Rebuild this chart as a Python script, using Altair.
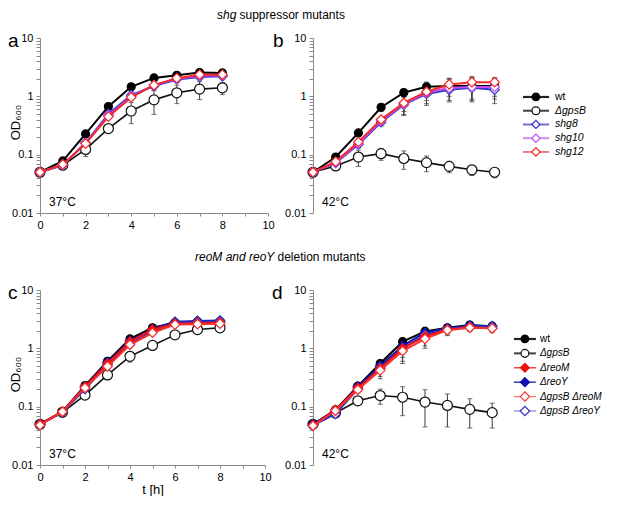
import altair as alt
import pandas as pd

FONT = "Liberation Sans"

# ---------------- data ----------------
T_H = [0, 1, 2, 3, 4, 5, 6, 7, 8]

# panel a : shg suppressors, 37 °C
A_WT = [0.05, 0.078, 0.227, 0.67, 1.46, 2.07, 2.29, 2.55, 2.52]
A_WT_SD = [0.002, 0.005, 0.02, 0.05, 0.1, 0.1, 0.12, 0.15, 0.15]
A_GPSB = [0.05, 0.066, 0.123, 0.28, 0.56, 0.87, 1.15, 1.33, 1.40]
A_GPSB_SD = [0.002, 0.006, 0.03, 0.03, 0.22, 0.38, 0.4, 0.45, 0.33]
A_SHG8 = [0.05, 0.066, 0.16, 0.50, 1.05, 1.50, 1.95, 2.15, 2.20]
A_SHG8_SD = [0.002, 0.005, 0.02, 0.08, 0.15, 0.2, 0.2, 0.2, 0.2]
A_SHG10 = [0.05, 0.067, 0.158, 0.47, 1.00, 1.55, 2.00, 2.25, 2.30]
A_SHG10_SD = [0.002, 0.005, 0.02, 0.06, 0.12, 0.15, 0.15, 0.15, 0.15]
A_SHG12 = [0.05, 0.068, 0.155, 0.45, 0.96, 1.56, 2.05, 2.35, 2.35]
A_SHG12_SD = [0.002, 0.005, 0.02, 0.05, 0.1, 0.12, 0.12, 0.12, 0.12]

# panel b : shg suppressors, 42 °C
B_WT = [0.05, 0.091, 0.236, 0.65, 1.16, 1.46, 1.5, 1.5, 1.5]
B_WT_SD = [0.002, 0.008, 0.02, 0.1, 0.17, 0.3, 0.5, 0.6, 0.5]
B_GPSB = [0.05, 0.064, 0.091, 0.104, 0.086, 0.073, 0.063, 0.055, 0.05]
B_GPSB_SD = [0.002, 0.005, 0.028, 0.024, 0.03, 0.022, 0.014, 0.011, 0.01]
B_SHG8 = [0.05, 0.072, 0.15, 0.36, 0.72, 1.1, 1.3, 1.4, 1.3]
B_SHG8_SD = [0.002, 0.006, 0.02, 0.05, 0.25, 0.4, 0.5, 0.6, 0.55]
B_SHG10 = [0.05, 0.074, 0.155, 0.38, 0.74, 1.15, 1.4, 1.45, 1.45]
B_SHG10_SD = [0.002, 0.006, 0.02, 0.05, 0.25, 0.4, 0.55, 0.6, 0.55]
B_SHG12 = [0.05, 0.076, 0.165, 0.4, 0.77, 1.2, 1.6, 1.75, 1.75]
B_SHG12_SD = [0.002, 0.006, 0.02, 0.05, 0.22, 0.35, 0.45, 0.45, 0.35]

# panel c : reoM / reoY deletions, 37 °C
C_WT = [0.05, 0.083, 0.23, 0.6, 1.45, 2.25, 2.75, 2.85, 2.85]
C_WT_SD = [0.002, 0.004, 0.015, 0.04, 0.08, 0.1, 0.1, 0.1, 0.1]
C_GPSB = [0.05, 0.08, 0.158, 0.35, 0.73, 1.12, 1.7, 2.1, 2.25]
C_GPSB_SD = [0.002, 0.004, 0.01, 0.05, 0.15, 0.08, 0.08, 0.1, 0.1]
C_REOM = [0.05, 0.082, 0.22, 0.55, 1.3, 2.1, 2.65, 2.7, 2.75]
C_REOM_SD = [0.002, 0.004, 0.015, 0.04, 0.1, 0.3, 0.15, 0.15, 0.15]
C_REOY = [0.05, 0.08, 0.22, 0.58, 1.35, 2.15, 2.85, 2.95, 3.0]
C_REOY_SD = [0.002, 0.004, 0.015, 0.04, 0.08, 0.1, 0.1, 0.1, 0.1]
C_GPSB_REOM = [0.048, 0.082, 0.21, 0.49, 1.15, 1.85, 2.55, 2.6, 2.65]
C_GPSB_REOM_SD = [0.002, 0.004, 0.015, 0.05, 0.12, 0.2, 0.15, 0.15, 0.15]
C_GPSB_REOY = [0.05, 0.08, 0.2, 0.52, 1.2, 1.95, 2.75, 2.85, 2.9]
C_GPSB_REOY_SD = [0.002, 0.004, 0.015, 0.04, 0.1, 0.15, 0.1, 0.1, 0.1]

# panel d : reoM / reoY deletions, 42 °C
D_WT = [0.05, 0.088, 0.225, 0.55, 1.3, 1.95, 2.25, 2.5, 2.4]
D_WT_SD = [0.002, 0.006, 0.02, 0.08, 0.2, 0.35, 0.3, 0.3, 0.3]
D_GPSB = [0.05, 0.078, 0.126, 0.155, 0.145, 0.12, 0.105, 0.09, 0.079]
D_GPSB_SD = [0.002, 0.006, 0.015, 0.045, 0.075, 0.075, 0.06, 0.047, 0.036]
D_REOM = [0.048, 0.088, 0.21, 0.45, 1.0, 1.6, 2.1, 2.3, 2.2]
D_REOM_SD = [0.002, 0.006, 0.02, 0.12, 0.4, 0.5, 0.4, 0.3, 0.3]
D_REOY = [0.05, 0.082, 0.22, 0.5, 1.1, 1.85, 2.2, 2.45, 2.4]
D_REOY_SD = [0.002, 0.006, 0.02, 0.08, 0.3, 0.4, 0.35, 0.3, 0.3]
D_GPSB_REOM = [0.047, 0.085, 0.195, 0.42, 0.9, 1.45, 2.05, 2.25, 2.2]
D_GPSB_REOM_SD = [0.002, 0.006, 0.02, 0.12, 0.35, 0.45, 0.4, 0.3, 0.3]
D_GPSB_REOY = [0.048, 0.075, 0.2, 0.47, 1.0, 1.7, 2.15, 2.4, 2.35]
D_GPSB_REOY_SD = [0.002, 0.006, 0.02, 0.08, 0.3, 0.4, 0.35, 0.3, 0.3]

SERIES_TOP = ["wt", "ΔgpsB", "shg8", "shg10", "shg12"]
SERIES_BOT = ["wt", "ΔgpsB", "ΔreoM", "ΔreoY", "ΔgpsB ΔreoM", "ΔgpsB ΔreoY"]
DRAW_BOT = ["ΔgpsB", "wt", "ΔreoY", "ΔgpsB ΔreoY", "ΔreoM", "ΔgpsB ΔreoM"]

X_TICKS = [0, 1, 2, 3, 4, 5, 6, 7, 8, 9, 10]
Y_TICKS = [0.01, 0.02, 0.03, 0.04, 0.05, 0.06, 0.07, 0.08, 0.09,
           0.1, 0.2, 0.3, 0.4, 0.5, 0.6, 0.7, 0.8, 0.9,
           1, 2, 3, 4, 5, 6, 7, 8, 9, 10]

# ---------------- styles ----------------
STYLE = {
    "wt": dict(color="#000000", shape="circle", fill="#000000", lw=2.0, size=64, leg="#222222", lleg=2.2),
    "ΔgpsB": dict(color="#111111", shape="circle", fill="#ffffff", lw=1.6, size=100, leg="#444444", lleg=1.0),
    "shg8": dict(color="#3636c8", shape="diamond", fill="#ffffff", lw=2.0, size=90, leg="#6a6ad6", lleg=1.2),
    "shg10": dict(color="#c24cf5", shape="diamond", fill="#ffffff", lw=2.0, size=90, leg="#d07cf7", lleg=1.2),
    "shg12": dict(color="#f42828", shape="diamond", fill="#ffffff", lw=2.0, size=90, leg="#f55a5a", lleg=1.2),
    "ΔreoM": dict(color="#f01010", shape="diamond", fill="#f01010", lw=2.0, size=90, leg="#f23a3a", lleg=2.0),
    "ΔreoY": dict(color="#1010b4", shape="diamond", fill="#1010b4", lw=2.0, size=90, leg="#1a1ab0", lleg=2.0),
    "ΔgpsB ΔreoM": dict(color="#f53030", shape="diamond", fill="#ffffff", lw=2.0, size=90, leg="#f77070", lleg=1.2),
    "ΔgpsB ΔreoY": dict(color="#3030c0", shape="diamond", fill="#ffffff", lw=2.0, size=90, leg="#6e6ed0", lleg=1.2),
}
ALL_SERIES = list(STYLE.keys())

ERR_COLOR = "#3a3a3a"
AXIS_COLOR = "#8a8a8a"


def table(pairs):
    rows = []
    for name, od, sd in pairs:
        for t, v, s in zip(T_H, od, sd):
            rows.append({"series": name, "t": t, "od": v, "sd": s})
    return pd.DataFrame(rows)


DF_A = table([("wt", A_WT, A_WT_SD), ("ΔgpsB", A_GPSB, A_GPSB_SD), ("shg8", A_SHG8, A_SHG8_SD),
              ("shg10", A_SHG10, A_SHG10_SD), ("shg12", A_SHG12, A_SHG12_SD)])
DF_B = table([("wt", B_WT, B_WT_SD), ("ΔgpsB", B_GPSB, B_GPSB_SD), ("shg8", B_SHG8, B_SHG8_SD),
              ("shg10", B_SHG10, B_SHG10_SD), ("shg12", B_SHG12, B_SHG12_SD)])
DF_C = table([("wt", C_WT, C_WT_SD), ("ΔgpsB", C_GPSB, C_GPSB_SD), ("ΔreoM", C_REOM, C_REOM_SD),
              ("ΔreoY", C_REOY, C_REOY_SD), ("ΔgpsB ΔreoM", C_GPSB_REOM, C_GPSB_REOM_SD),
              ("ΔgpsB ΔreoY", C_GPSB_REOY, C_GPSB_REOY_SD)])
DF_D = table([("wt", D_WT, D_WT_SD), ("ΔgpsB", D_GPSB, D_GPSB_SD), ("ΔreoM", D_REOM, D_REOM_SD),
              ("ΔreoY", D_REOY, D_REOY_SD), ("ΔgpsB ΔreoM", D_GPSB_REOM, D_GPSB_REOM_SD),
              ("ΔgpsB ΔreoY", D_GPSB_REOY, D_GPSB_REOY_SD)])

XS = alt.Scale(domain=[0, 10], nice=False, zero=False)
YS = alt.Scale(type="log", domain=[0.01, 10], nice=False)


def xaxis(title):
    kw = dict(values=X_TICKS, labelExpr="datum.value % 2 == 0 ? datum.label : ''",
              labelFlush=False, labelOverlap=False, tickSize=3, labelPadding=3,
              title=title if title else None)
    if title:
        kw.update(titlePadding=1)
    return alt.Axis(**kw)


def yaxis(title):
    expr = "indexof([0.01, 0.1, 1, 10], datum.value) >= 0 ? datum.label : ''"
    kw = dict(values=Y_TICKS, labelExpr=expr, format="~g", labelFlush=False,
              labelOverlap=False, tickSize=4, labelPadding=3,
              title=title if title else None)
    if title:
        kw.update(titleX=-18, titleY=84, titleAngle=-90, titleAlign="center", titleBaseline="bottom")
    return alt.Axis(**kw)


def text_layer(txt, x, y, size, style="normal", align="left", baseline="middle"):
    return alt.Chart(pd.DataFrame({"label": [txt]})).mark_text(
        align=align, baseline=baseline, fontSize=size, fontStyle=style, font=FONT, color="black"
    ).encode(text="label:N", x=alt.value(x), y=alt.value(y))


def data_group(df, series, xtitle, ytitle):
    X = alt.X("t:Q", scale=XS, axis=xaxis(xtitle))
    base = alt.Chart(df).transform_calculate(lo="datum.od - datum.sd", hi="datum.od + datum.sd")
    ylo = alt.Y("lo:Q", scale=YS, axis=yaxis(ytitle))
    yhi = alt.Y("hi:Q", scale=YS, axis=yaxis(ytitle))
    layers = [
        base.mark_rule(color=ERR_COLOR, strokeWidth=1).encode(x=X, y=ylo, y2="hi:Q"),
        base.mark_tick(orient="horizontal", size=5, thickness=1, color=ERR_COLOR).encode(x=X, y=ylo),
        base.mark_tick(orient="horizontal", size=5, thickness=1, color=ERR_COLOR).encode(x=X, y=yhi),
    ]
    Y = alt.Y("od:Q", scale=YS, axis=yaxis(ytitle))
    for s in series:
        st = STYLE[s]
        sub = alt.Chart(df).transform_filter(alt.datum.series == s)
        layers.append(sub.mark_line(color=st["color"], strokeWidth=st["lw"]).encode(x=X, y=Y))
        layers.append(sub.mark_point(shape=st["shape"], size=st["size"], filled=True, fill=st["fill"],
                                     stroke=st["color"], strokeWidth=1.2, opacity=1)
                      .encode(x=X, y=Y))
    return alt.layer(*layers)


def legend_group(series, x0, x1, xp, xt, ydom, fsize):
    ldf = pd.DataFrame({"series": series, "row": list(range(len(series)))})
    LY = alt.Y("row:Q", scale=alt.Scale(domain=ydom, reverse=True, nice=False, zero=False), axis=None)
    dom = ALL_SERIES
    base = alt.Chart(ldf)
    rule = base.mark_rule().encode(
        x=alt.X(datum=x0, scale=XS, axis=None), x2=alt.X2(datum=x1), y=LY,
        color=alt.Color("series:N", scale=alt.Scale(domain=dom, range=[STYLE[s]["leg"] for s in dom]), legend=None),
        strokeWidth=alt.StrokeWidth("series:N", scale=alt.Scale(domain=dom, range=[STYLE[s]["lleg"] for s in dom]), legend=None),
    )
    pts = base.mark_point(filled=True, opacity=1, strokeWidth=1.2).encode(
        x=alt.X(datum=xp, scale=XS, axis=None), y=LY,
        shape=alt.Shape("series:N", scale=alt.Scale(domain=dom, range=[STYLE[s]["shape"] for s in dom]), legend=None),
        fill=alt.Fill("series:N", scale=alt.Scale(domain=dom, range=[STYLE[s]["fill"] for s in dom]), legend=None),
        stroke=alt.Stroke("series:N", scale=alt.Scale(domain=dom, range=[STYLE[s]["color"] for s in dom]), legend=None),
        size=alt.Size("series:N", scale=alt.Scale(domain=dom, range=[STYLE[s]["size"] * 0.9 for s in dom]), legend=None),
    )
    t_norm = base.transform_filter(alt.datum.series == "wt").mark_text(
        align="left", baseline="middle", fontSize=fsize, font=FONT, color="black"
    ).encode(x=alt.X(datum=xt, scale=XS, axis=None), y=LY, text="series:N")
    t_ital = base.transform_filter(alt.datum.series != "wt").mark_text(
        align="left", baseline="middle", fontSize=fsize, fontStyle="italic", font=FONT, color="black"
    ).encode(x=alt.X(datum=xt, scale=XS, axis=None), y=LY, text="series:N")
    return alt.layer(rule, pts, t_norm, t_ital)


# ---------------- panels ----------------
WA, WB, WC, WD = 228, 227, 225, 224
HT, HB = 175, 175

panel_a = alt.layer(
    data_group(DF_A, SERIES_TOP, None, "OD₆₀₀"),
    text_layer("a", -32, 9, 19, baseline="alphabetic"),
    text_layer("37°C", 9, 164, 12),
    text_layer("shg", 177, -23, 12, style="italic"),
    text_layer("suppressor mutants", 199.5, -23, 12),
).properties(width=WA, height=HT)

panel_b = alt.layer(
    alt.layer(
        data_group(DF_B, SERIES_TOP, None, None),
        text_layer("b", -40, 9, 19, baseline="alphabetic"),
        text_layer("42°C", 9, 164, 12),
    ),
    legend_group(SERIES_TOP, 9.25, 10.4, 9.82, 10.66, [-4.29, 8.44], 10.5),
).resolve_scale(y="independent").properties(width=WB, height=HT)

panel_c = alt.layer(
    data_group(DF_C, DRAW_BOT, "t [h]", "OD₆₀₀"),
    text_layer("c", -32, 9, 19, baseline="alphabetic"),
    text_layer("37°C", 9, 164, 12),
    text_layer("reoM and reoY", 155, -33, 12, style="italic"),
    text_layer("deletion mutants", 237.5, -33, 12),
).properties(width=WC, height=HB)

panel_d = alt.layer(
    alt.layer(
        data_group(DF_D, DRAW_BOT, "t [h]", None),
        text_layer("d", -41, 9, 19, baseline="alphabetic"),
        text_layer("42°C", 9, 164, 12),
    ),
    legend_group(SERIES_BOT, 8.97, 9.95, 9.46, 10.13, [-3.40, 8.75], 10),
).resolve_scale(y="independent").properties(width=WD, height=HB)

row1 = alt.hconcat(panel_a, panel_b, spacing=45, bounds="flush")
row2 = alt.hconcat(panel_c, panel_d, spacing=48, bounds="flush")

chart = alt.vconcat(row1, row2, spacing=21).properties(
    padding={"left": 0, "top": 1, "right": 0, "bottom": 0}
).configure(font=FONT).configure_view(stroke=None).configure_axis(
    grid=False, domainColor=AXIS_COLOR, tickColor=AXIS_COLOR, labelColor="black",
    labelFont=FONT, labelFontSize=11, titleFont=FONT, titleFontSize=13,
    titleFontWeight="normal", titleColor="black",
)

chart.save("out.html", embed_options={"renderer": "svg", "actions": False})
